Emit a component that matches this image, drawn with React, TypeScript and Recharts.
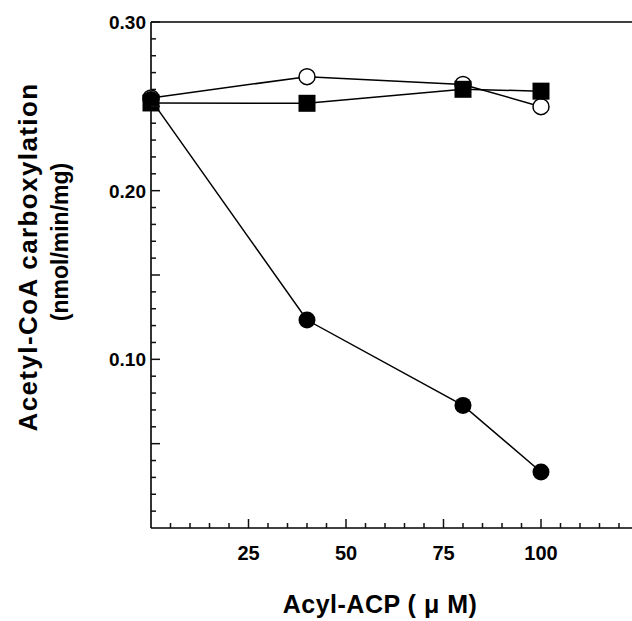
import { LineChart, Line, XAxis, YAxis, ReferenceLine } from "recharts";

const CONC = [0, 40, 80, 100];
const FILLED_CIRCLES = [0.254, 0.1233, 0.0727, 0.0332];
const OPEN_CIRCLES = [0.255, 0.2676, 0.263, 0.2498];
const FILLED_SQUARES = [0.252, 0.2518, 0.2601, 0.259];

const X_LABELS = [25, 50, 75, 100];
const Y_LABELS = [0.1, 0.2, 0.3];

// minor ticks: every 5 µM on x, every 0.01 on y
const X_TICKS = Array.from({ length: 25 }, (_, i) => (i + 1) * 5);
const Y_TICKS = Array.from({ length: 30 }, (_, i) => Number(((i + 1) / 100).toFixed(2)));

const data = CONC.map((x, i) => ({
  x,
  filled: FILLED_CIRCLES[i],
  open: OPEN_CIRCLES[i],
  square: FILLED_SQUARES[i],
}));

const FONT = "'Liberation Sans', Arial, Helvetica, sans-serif";
const INK = "#111";

function XTick(props: any) {
  const { x, y, payload } = props;
  const v = payload.value;
  const major = X_LABELS.includes(v);
  return (
    <g>
      <line x1={x} x2={x} y1={y} y2={y - (major ? 9 : 5)} stroke={INK} strokeWidth={1.5} />
      {major && (
        <text x={x} y={y + 32} textAnchor="middle" fontFamily={FONT} fontWeight="bold" fontSize={20} fill="#000">
          {v}
        </text>
      )}
    </g>
  );
}

function YTick(props: any) {
  const { x, y, payload } = props;
  const v = payload.value;
  const hundredths = Math.round(v * 100);
  const major = Y_LABELS.some((l) => Math.round(l * 100) === hundredths);
  const mid = hundredths % 5 === 0;
  return (
    <g>
      <line x1={x} x2={x + (mid ? 9 : 5)} y1={y} y2={y} stroke={INK} strokeWidth={1.5} />
      {major && (
        <text x={x - 5} y={y + 7} textAnchor="end" fontFamily={FONT} fontWeight="bold" fontSize={19} fill="#000">
          {v.toFixed(2)}
        </text>
      )}
    </g>
  );
}

function SquareDot(props: any) {
  const { cx, cy } = props;
  if (cx == null || cy == null) return null;
  return <rect x={cx - 8.5} y={cy - 8.5} width={17} height={17} fill="#000" />;
}

const titleStyle = {
  position: "absolute" as const,
  fontFamily: FONT,
  fontWeight: "bold" as const,
  color: "#000",
  whiteSpace: "nowrap" as const,
  lineHeight: 1,
};

// rotated title: centre at (cx, cy)
function VTitle({ cx, cy, size, spacing, children }: any) {
  return (
    <div
      style={{
        ...titleStyle,
        left: cx,
        top: cy,
        fontSize: size,
        letterSpacing: spacing,
        transform: "translate(-50%, -50%) rotate(-90deg)",
      }}
    >
      {children}
    </div>
  );
}

export default function App() {
  return (
    <div
      style={{
        position: "absolute",
        left: 0,
        top: 0,
        width: 632,
        height: 621,
        overflow: "hidden",
        background: "#fff",
      }}
    >
      <LineChart
        width={659}
        height={621}
        data={data}
        margin={{ top: 22, right: 1, bottom: 53, left: 91 }}
      >
        <XAxis
          type="number"
          dataKey="x"
          domain={[0, 130]}
          ticks={X_TICKS}
          interval={0}
          tickSize={0}
          tickMargin={0}
          tick={XTick}
          height={40}
          axisLine={{ stroke: "#000", strokeWidth: 1.6 }}
        />
        <YAxis
          type="number"
          domain={[0, 0.3]}
          ticks={Y_TICKS}
          interval={0}
          tickSize={0}
          tickMargin={0}
          tick={YTick}
          width={60}
          axisLine={{ stroke: "#000", strokeWidth: 1.6 }}
        />
        <ReferenceLine y={0.3} stroke="#000" strokeWidth={1.6} ifOverflow="visible" />
        <Line
          dataKey="open"
          stroke="#000"
          strokeWidth={1.5}
          dot={{ r: 8, fill: "#fff", stroke: "#000", strokeWidth: 1.5 }}
          isAnimationActive={false}
        />
        <Line
          dataKey="filled"
          stroke="#000"
          strokeWidth={1.5}
          dot={{ r: 8.5, fill: "#000", stroke: "#000", strokeWidth: 0 }}
          isAnimationActive={false}
        />
        <Line
          dataKey="square"
          stroke="#000"
          strokeWidth={1.5}
          dot={SquareDot}
          isAnimationActive={false}
        />
      </LineChart>
      <div
        style={{
          ...titleStyle,
          left: 380,
          top: 604,
          fontSize: 25,
          letterSpacing: 0.5,
          transform: "translate(-50%, -50%)",
        }}
      >
        Acyl-ACP ( μ M)
      </div>
      <VTitle cx={28} cy={257} size={26} spacing={1.4}>
        Acetyl-CoA carboxylation
      </VTitle>
      <VTitle cx={60} cy={242} size={23} spacing={0}>
        (nmol/min/mg)
      </VTitle>
    </div>
  );
}
